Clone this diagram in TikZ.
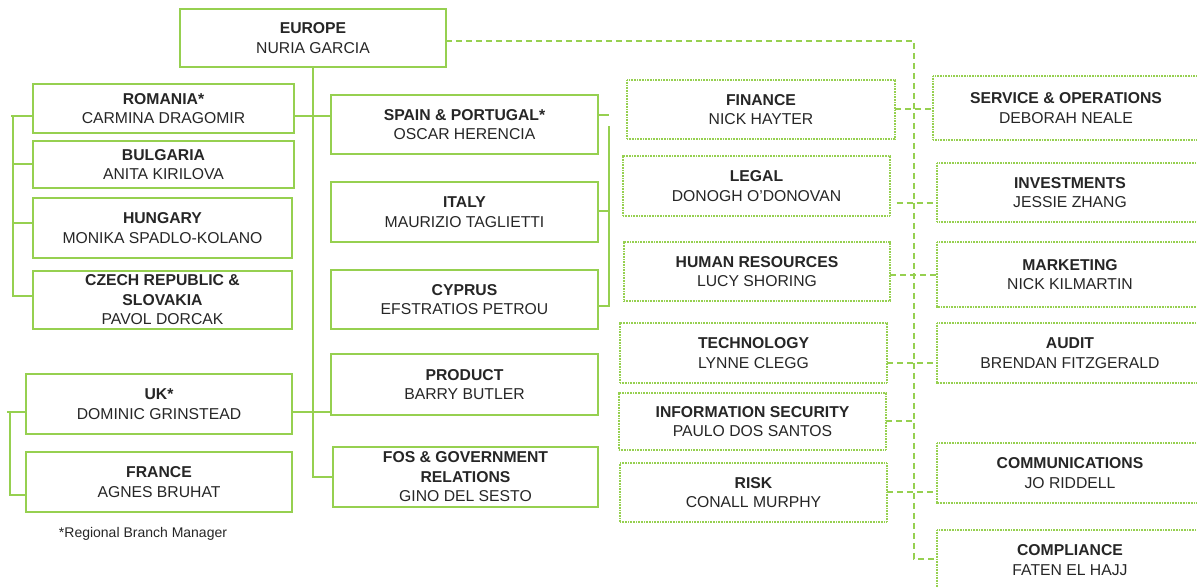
\documentclass[tikz,border=0pt]{standalone}
\usepackage{fontspec}
\setmainfont{Liberation Sans}
\definecolor{orggreen}{RGB}{150,208,80}
\definecolor{orgtext}{RGB}{38,38,38}
\newcommand\orgbox[7]{%
  \pgfmathsetmacro\bw{(#5-#3)*0.75}%
  \pgfmathsetmacro\bh{(#6-#4)*0.75}%
  \node[#1, minimum width=\bw pt, minimum height=\bh pt] (#2) at ({(#3+#5)/2},{(#4+#6)/2}) {#7};}
\begin{document}
\begin{tikzpicture}[x=0.75pt,y=-0.75pt,
  base/.style={rectangle, inner sep=0pt, outer sep=0pt, align=center, text=orgtext,
    font=\fontsize{11.8}{14.6}\selectfont},
  solidbox/.style={base, draw=orggreen, line width=1.3pt},
  dotbox/.style={base, draw=orggreen, line width=0.9pt, dash pattern=on 0.75pt off 0.45pt},
  openbox/.style={base},
  dotline/.style={draw=orggreen, line width=0.9pt, dash pattern=on 0.75pt off 0.45pt},
  solidln/.style={draw=orggreen, line width=1.3pt},
  dashln/.style={draw=orggreen, line width=1.1pt, dash pattern=on 4.5pt off 3pt},
  note/.style={text=orgtext, font=\fontsize{10.5}{12}\selectfont}]
\useasboundingbox (0,0) rectangle (1197,587);
\clip (0,0) rectangle (1197,587);
\fill[white] (0,0) rectangle (1197,587);

% left / centre column (solid)
\orgbox{solidbox}{europe}{180}{9}{446}{67}{\textbf{EUROPE}\\NURIA GARCIA}
\orgbox{solidbox}{romania}{33}{84}{294}{133}{\textbf{ROMANIA*}\\CARMINA DRAGOMIR}
\orgbox{solidbox}{bulgaria}{33}{141}{294}{188}{\textbf{BULGARIA}\\ANITA KIRILOVA}
\orgbox{solidbox}{hungary}{33}{198}{292}{258}{\textbf{HUNGARY}\\MONIKA SPADLO-KOLANO}
\orgbox{solidbox}{czech}{33}{271}{292}{329}{\textbf{CZECH REPUBLIC \&}\\\textbf{SLOVAKIA}\\PAVOL DORCAK}
\orgbox{solidbox}{uk}{26}{374}{292}{434}{\textbf{UK*}\\DOMINIC GRINSTEAD}
\orgbox{solidbox}{france}{26}{452}{292}{512}{\textbf{FRANCE}\\AGNES BRUHAT}
\orgbox{solidbox}{spain}{331}{95}{598}{154}{\textbf{SPAIN \& PORTUGAL*}\\OSCAR HERENCIA}
\orgbox{solidbox}{italy}{331}{182}{598}{242}{\textbf{ITALY}\\MAURIZIO TAGLIETTI}
\orgbox{solidbox}{cyprus}{331}{270}{598}{329}{\textbf{CYPRUS}\\EFSTRATIOS PETROU}
\orgbox{solidbox}{product}{331}{354}{598}{415}{\textbf{PRODUCT}\\BARRY BUTLER}
\orgbox{solidbox}{fos}{333}{447}{598}{507}{\textbf{FOS \& GOVERNMENT}\\\textbf{RELATIONS}\\GINO DEL SESTO}

% middle column (dotted)
\orgbox{dotbox}{finance}{627}{80}{895}{139}{\textbf{FINANCE}\\NICK HAYTER}
\orgbox{dotbox}{legal}{623}{156}{890}{216}{\textbf{LEGAL}\\DONOGH O'DONOVAN}
\orgbox{dotbox}{hr}{624}{242}{890}{301}{\textbf{HUMAN RESOURCES}\\LUCY SHORING}
\orgbox{dotbox}{tech}{620}{323}{887}{383}{\textbf{TECHNOLOGY}\\LYNNE CLEGG}
\orgbox{dotbox}{infosec}{619}{393}{886}{450}{\textbf{INFORMATION SECURITY}\\PAULO DOS SANTOS}
\orgbox{dotbox}{risk}{620}{463}{887}{522}{\textbf{RISK}\\CONALL MURPHY}

% right column (dotted, running past the right edge)
\orgbox{openbox}{service}{933}{76}{1199}{140}{\textbf{SERVICE \& OPERATIONS}\\DEBORAH NEALE}
\orgbox{openbox}{invest}{937}{163}{1203}{222}{\textbf{INVESTMENTS}\\JESSIE ZHANG}
\orgbox{openbox}{marketing}{937}{242}{1203}{307}{\textbf{MARKETING}\\NICK KILMARTIN}
\orgbox{openbox}{audit}{937}{323}{1203}{383}{\textbf{AUDIT}\\BRENDAN FITZGERALD}
\orgbox{openbox}{comm}{937}{443}{1203}{503}{\textbf{COMMUNICATIONS}\\JO RIDDELL}
\orgbox{openbox}{compliance}{937}{530}{1203}{590}{\textbf{COMPLIANCE}\\FATEN EL HAJJ}
\foreach \n in {service,invest,marketing,audit,comm,compliance}
  \draw[dotline] ([xshift=20pt]\n.north east) -- (\n.north west) -- (\n.south west) -- ([xshift=20pt]\n.south east);

\node[note] (foot) at (143,534) {*Regional Branch Manager};

% solid connectors
\draw[solidln] (europe.south) -- (europe.south |- fos.west) -- (fos.west);
\draw[solidln] (romania.east |- 0,116) -- (spain.west |- 0,116);
\draw[solidln] (uk.east |- 0,412) -- (product.west |- 0,412);
% left bracket 1
\draw[solidln] (romania.west |- 0,116) -- (11,116);
\draw[solidln] (13,116) -- (13,296) -- (czech.west |- 0,296);
\draw[solidln] (13,164) -- (bulgaria.west |- 0,164);
\draw[solidln] (13,223) -- (hungary.west |- 0,223);
% left bracket 2
\draw[solidln] (uk.west |- 0,412) -- (7,412);
\draw[solidln] (10,412) -- (10,495) -- (france.west |- 0,495);
% spain bracket
\draw[solidln] (spain.east |- 0,115) -- (609,115);
\draw[solidln] (609,126) -- (609,306) -- (cyprus.east |- 0,306);
\draw[solidln] (609,211) -- (italy.east |- 0,211);

% dashed connectors
\coordinate (vt) at (914,41);
\coordinate (vb) at (914,559);
\draw[dashln] (europe.east |- vt) -- (vt) -- (vb) -- (compliance.west |- vb);
\draw[dashln] (finance.east |- 0,109) -- (service.west |- 0,109);
\draw[dashln] ([xshift=5pt]legal.east |- 0,203) -- (invest.west |- 0,203);
\draw[dashln] (hr.east |- 0,275) -- (marketing.west |- 0,275);
\draw[dashln] (tech.east |- 0,363) -- (audit.west |- 0,363);
\draw[dashln] (infosec.east |- 0,421) -- (vt |- 0,421);
\draw[dashln] (risk.east |- 0,492) -- (comm.west |- 0,492);
\end{tikzpicture}
\end{document}
